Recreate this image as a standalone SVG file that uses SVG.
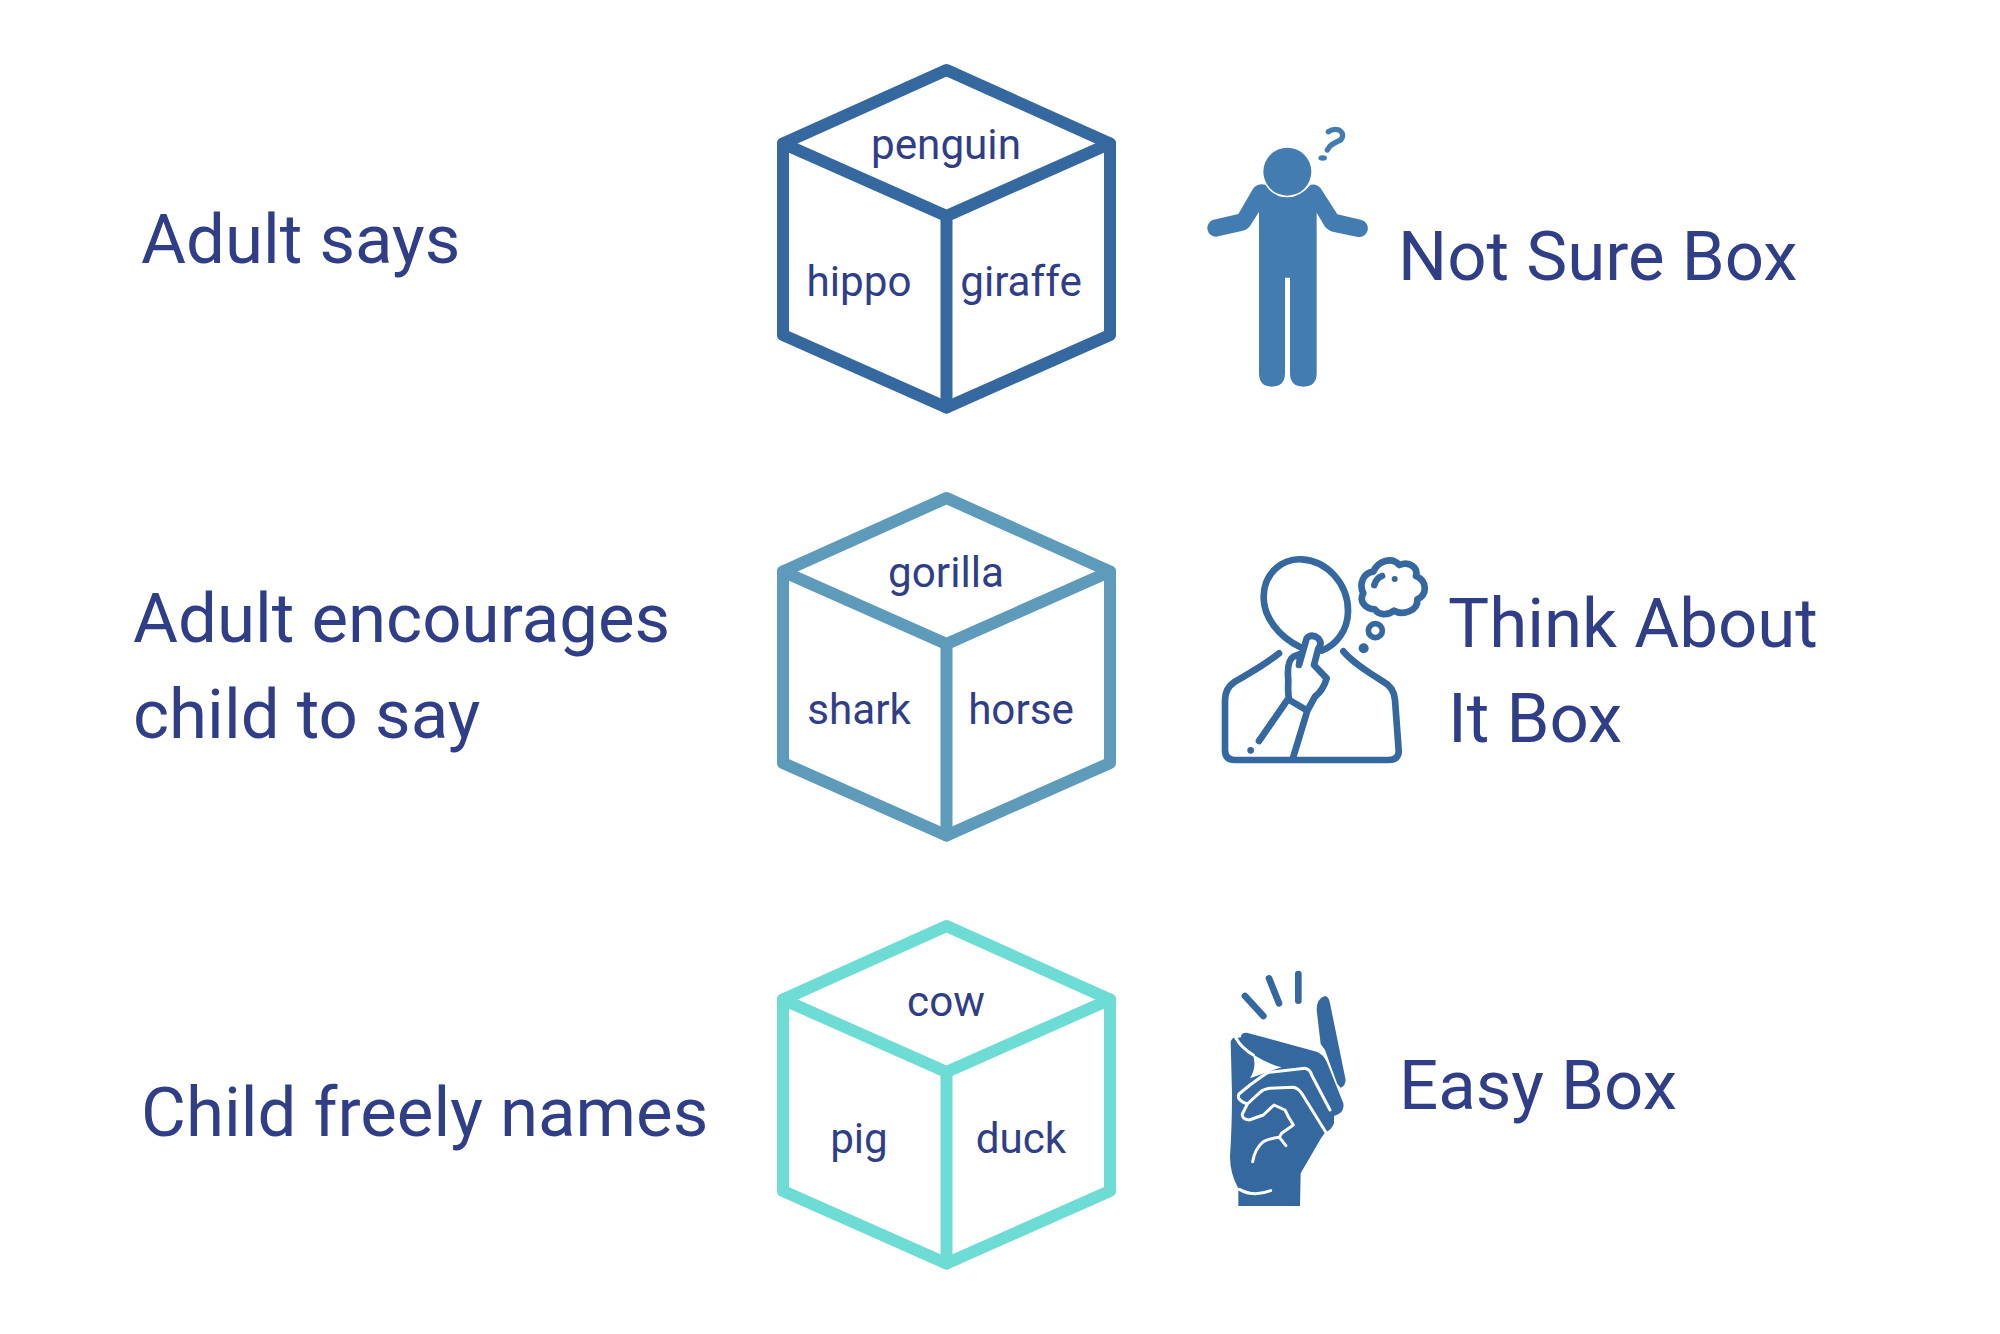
<svg xmlns="http://www.w3.org/2000/svg" width="2000" height="1334" viewBox="0 0 2000 1334">
<defs>
<style>
text{font-family:Roboto,"Liberation Sans",sans-serif;fill:#2f3e86}
.big{font-size:69px}
.lab{font-size:42.200px;text-anchor:middle}
.cube{fill:none;stroke-width:12;stroke-linejoin:round;stroke-linecap:round}
.ln{fill:none;stroke:#34689f;stroke-width:20;stroke-linecap:round;stroke-linejoin:round}
.wl{fill:none;stroke:#fff;stroke-width:9;stroke-linecap:round;stroke-linejoin:round}
</style>
<g id="cubeShape">
<path d="M946.500 70L1110 143.500V335L946.500 407.500L783 335V143.500Z"/>
<path d="M783 143.500L946.500 216L1110 143.500M946.500 216V407.500"/>
</g>
</defs>
<rect width="2000" height="1334" fill="#fff"/>
<g id="row1-label"><text class="big" x="141" y="263">Adult says</text></g>
<g id="row2-label"><text class="big" x="133" y="642">Adult encourages</text><text class="big" x="133" y="738">child to say</text></g>
<g id="row3-label"><text class="big" x="141" y="1136">Child freely names</text></g>
<g id="cube1" class="cube" stroke="#34689f"><use href="#cubeShape"/></g>
<g id="cube2" class="cube" stroke="#5e9aba"><use href="#cubeShape" y="428"/></g>
<g id="cube3" class="cube" stroke="#6cdcd4"><use href="#cubeShape" y="856"/></g>
<g id="cube1-labels"><text class="lab" x="946" y="159">penguin</text><text class="lab" x="859" y="296">hippo</text><text class="lab" x="1021" y="296">giraffe</text></g>
<g id="cube2-labels"><text class="lab" x="946" y="587">gorilla</text><text class="lab" x="859" y="724">shark</text><text class="lab" x="1021" y="724">horse</text></g>
<g id="cube3-labels"><text class="lab" x="946" y="1016">cow</text><text class="lab" x="859" y="1153">pig</text><text class="lab" x="1021" y="1153">duck</text></g>
<g id="icon-person" transform="translate(1190 110) scale(.33333)" fill="#437cb0">
<circle cx="292" cy="185" r="72"/>
<path d="M207 305V790Q207 830 245 830Q285 830 285 790V503H300V790Q300 830 340 830Q380 830 380 790V308L405 350Q415 362 435 367L500 380A26 26 0 0 0 515 330L442 313L392 235Q380 220 362 224Q330 262 292 262Q250 262 226 224Q205 218 190 235L145 312L68 330A26 26 0 0 0 78 380L155 363Q172 360 180 348Z"/>
<path d="M415 65Q430 55 447 60Q466 72 452 90Q430 100 420 108L412 120" fill="none" stroke="#437cb0" stroke-width="16" stroke-linecap="round"/>
<ellipse cx="398" cy="144" rx="13" ry="8"/>
</g>
<g id="icon-think" transform="translate(1210 540) scale(.33333)">
<path class="ln" d="M272 322C205 290 160 230 161 170C162 100 215 55 275 58C350 62 415 130 414 215C413 270 380 315 335 332"/>
<path class="ln" d="M207 340C170 370 110 405 75 425C55 438 45 455 45 480V630Q45 660 75 660H535Q568 660 566 630L555 480C553 455 540 435 520 425C480 400 430 370 400 334"/>
<path class="ln" d="M250 650L292 512L238 480C232 460 235 440 235 420C232 390 235 360 250 350L272 342L267 375L290 295Q305 280 325 295Q338 310 325 325L312 375L350 415Q340 450 315 470L292 512M232 480L147 603"/>
<circle cx="122" cy="631" r="10" fill="#34689f"/>
<circle cx="461" cy="325" r="15" fill="#34689f"/>
<circle cx="496" cy="272" r="21" fill="none" stroke="#34689f" stroke-width="17"/>
<path class="ln" d="M495 208C468 208 445 185 460 160C445 130 462 98 490 95C505 62 545 50 568 75C600 62 625 85 618 108C655 125 650 165 622 178C625 212 578 228 552 212C532 228 505 225 495 208Z"/>
<path class="ln" stroke-width="14" d="M493 135Q498 115 516 108"/>
<circle cx="554" cy="117" r="9" fill="#34689f"/>
</g>
<g id="icon-easy" transform="translate(1210 960) scale(.33333)" fill="#34689f">
<path d="M105 108L160 168M177 55L207 130M265 42V122" fill="none" stroke="#34689f" stroke-width="20" stroke-linecap="round"/>
<path d="M320 150Q320 115 345 108Q357 110 360 130L407 360Q405 380 392 383L382 372L345 270L332 252Z"/>
<path d="M62 245Q68 228 78 235L93 232Q92 218 110 218L320 275Q340 283 350 305L400 430Q405 460 372 468L372 490Q365 510 345 518L333 535L272 640L270 738H85V685Q60 640 60 590Q66 500 66 400Z"/>
<path fill="#fff" d="M128 283Q170 310 215 322L175 335L120 355Q142 320 128 283Z"/>
<path class="wl" d="M78 235Q95 265 130 285M175 337Q160 345 120 375L87 402Q78 420 112 432L150 397Q160 388 178 385L250 382Q265 385 275 400L347 516M112 432L97 462Q95 478 118 480L160 465L192 435L225 450L235 470L250 495L215 520L208 532Q180 535 160 545Q135 565 128 605M208 532L228 557M88 688Q130 712 182 692M175 337L285 325Q300 328 305 345L360 450"/>
</g>
<g id="note-notsure"><text class="big" x="1398" y="280">Not Sure Box</text></g>
<g id="note-think"><text class="big" x="1448" y="647">Think About</text><text class="big" x="1448" y="742">It Box</text></g>
<g id="note-easy"><text class="big" x="1399" y="1109">Easy Box</text></g>
</svg>
